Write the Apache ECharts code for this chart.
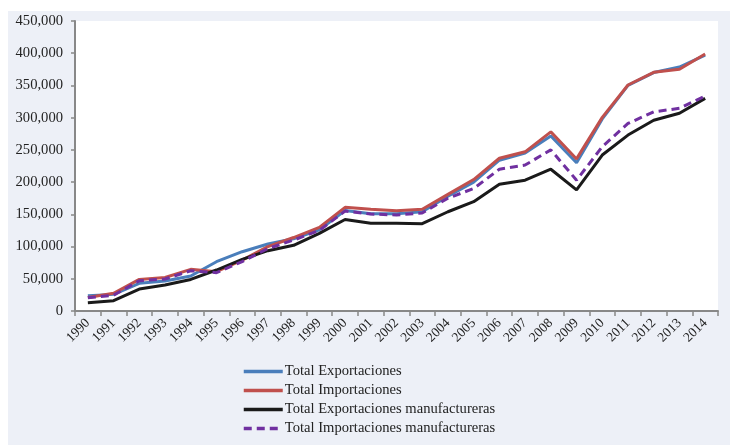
<!DOCTYPE html>
<html>
<head>
<meta charset="utf-8">
<script src="https://cdn.jsdelivr.net/npm/echarts@6/dist/echarts.min.js"></script>
<style>
  html, body { margin: 0; padding: 0; background: #ffffff; }
  #chart { width: 730px; height: 445px; }
</style>
</head>
<body>
<div id="chart"></div>
<script>
// Years on the category axis
const years = ['1990','1991','1992','1993','1994','1995','1996','1997','1998','1999',
  '2000','2001','2002','2003','2004','2005','2006','2007','2008','2009',
  '2010','2011','2012','2013','2014'];

// Totals (value units)
const totalExportaciones = [23800, 25800, 43000, 46600, 54300, 76500, 92000, 104000, 112000, 126000,
  156000, 151000, 151000, 154000, 178000, 200000, 234000, 245000, 271500, 230000,
  298000, 350000, 370000, 378600, 397000];
const totalImportaciones = [21000, 27400, 49000, 52000, 64600, 61000, 79000, 99800, 114000, 129800,
  160900, 157800, 155700, 157800, 181000, 204000, 237000, 247000, 278000, 236000,
  300500, 350700, 370400, 375000, 398800];
const exportacionesManuf = [12900, 16000, 34000, 40300, 49000, 63600, 80000, 93600, 102000, 120500,
  142000, 136000, 136000, 135500, 154000, 169600, 196600, 203000, 220000, 188000,
  242000, 273000, 296000, 306800, 330000];
const importacionesManuf = [20400, 24500, 47000, 49600, 62500, 59500, 76600, 97000, 110000, 125000,
  155000, 150500, 149000, 152000, 175000, 190000, 220000, 226500, 250000, 203000,
  255000, 291000, 309000, 314500, 333600];

const seriesNames = ['Total Exportaciones', 'Total Importaciones',
  'Total Exportaciones manufactureras', 'Total Importaciones manufactureras'];

const yTicks = { min: 0, max: 450000, interval: 50000 };

const serif = '"Liberation Serif", "DejaVu Serif", serif';

function lineSeries(name, data, color, dashed) {
  return {
    name: name,
    type: 'line',
    data: data,
    symbol: 'none',
    smooth: false,
    lineStyle: { color: color, width: 3, type: dashed ? [8, 5] : 'solid' },
    itemStyle: { color: color },
    emphasis: { disabled: true }
  };
}

// One legend block per entry, stacked as a single column under the axis
const legendRowTop = [364, 383, 402, 421];
const legends = seriesNames.map((name, i) => ({
  orient: 'vertical',
  left: 242, top: legendRowTop[i],
  padding: 0,
  itemWidth: 39, itemHeight: 10,
  itemStyle: { opacity: 0 },
  lineStyle: { width: 3.5 },
  selectedMode: false,
  textStyle: { color: '#222222', fontFamily: serif, fontSize: 14.6, padding: [0, 0, 0, -3] },
  data: [name]
}));

const chart = echarts.init(document.getElementById('chart'), null, { renderer: 'canvas' });
chart.setOption({
  animation: false,
  backgroundColor: '#ffffff',
  graphic: [{
    type: 'rect',
    z: -10,
    silent: true,
    shape: { x: 8, y: 11, width: 722, height: 434 },
    style: { fill: '#edf0f7' }
  }],
  grid: {
    left: 75, top: 21, right: 12, bottom: 134,
    show: true, backgroundColor: '#ffffff', borderWidth: 0,
    containLabel: false
  },
  xAxis: {
    type: 'category',
    data: years,
    boundaryGap: true,
    axisLine: { show: true, lineStyle: { color: '#888888', width: 2 } },
    axisTick: { show: true, length: 5, lineStyle: { color: '#888888', width: 1.5 } },
    axisLabel: {
      rotate: 45, interval: 0, margin: 10,
      color: '#222222', fontFamily: serif, fontSize: 13.5
    },
    splitLine: { show: false }
  },
  yAxis: {
    type: 'value',
    min: yTicks.min, max: yTicks.max, interval: yTicks.interval,
    axisLine: { show: true, lineStyle: { color: '#888888', width: 2 } },
    axisTick: { show: true, length: 4, lineStyle: { color: '#888888', width: 1.5 } },
    axisLabel: {
      margin: 12,
      color: '#222222', fontFamily: serif, fontSize: 14.6,
      formatter: v => v.toLocaleString('en-US')
    },
    splitLine: { show: false }
  },
  legend: legends,
  series: [
    lineSeries(seriesNames[0], totalExportaciones, '#4a7ebb', false),
    lineSeries(seriesNames[1], totalImportaciones, '#c0504d', false),
    lineSeries(seriesNames[2], exportacionesManuf, '#1a1a1a', false),
    lineSeries(seriesNames[3], importacionesManuf, '#7030a0', true)
  ]
});
</script>
</body>
</html>
